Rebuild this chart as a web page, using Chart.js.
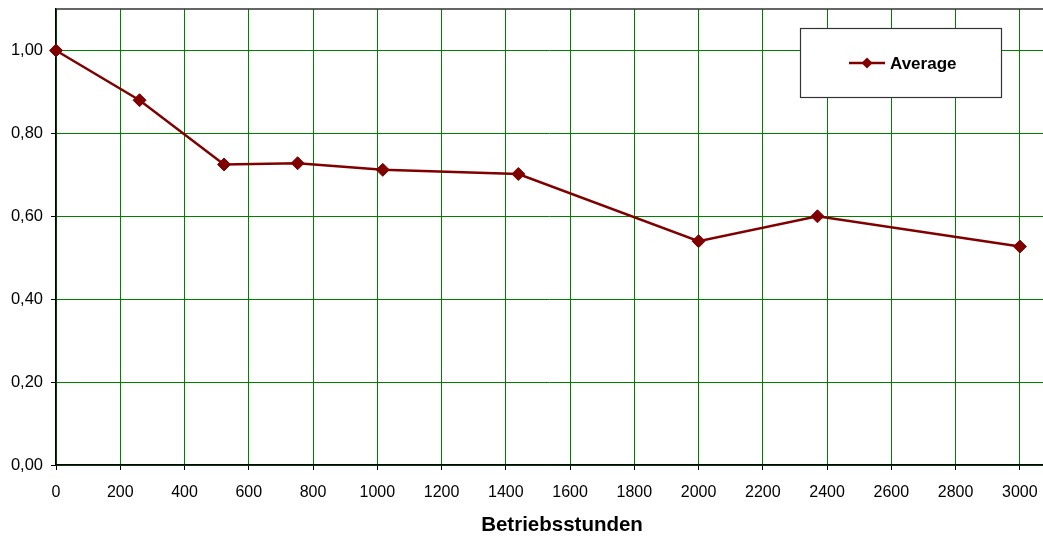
<!DOCTYPE html>
<html>
<head>
<meta charset="utf-8">
<title>Average</title>
<script src="https://cdn.jsdelivr.net/npm/chart.js@4/dist/chart.umd.min.js"></script>
<style>
  html, body { margin: 0; padding: 0; background: #fff; }
  #wrap { width: 1043px; height: 536px; position: relative; }
</style>
</head>
<body>
<div id="wrap"><canvas id="chart"></canvas></div>
<script>
  // Betriebsstunden (x) und Mittelwert (y)
  const hours = [0, 260, 523, 752, 1017, 1439, 2000, 2370, 3000];
  const average = [1.00, 0.88, 0.725, 0.728, 0.712, 0.702, 0.540, 0.600, 0.527];
  const seriesName = 'Average';
  const xTitle = 'Betriebsstunden';

  const FONT = '"Liberation Sans", Arial, sans-serif';
  const RED = '#800000';
  const GREEN = '#008000';

  // top frame, axis title and floating legend box like the excel original
  const framePlugin = {
    id: 'frame',
    afterDraw(chart) {
      const ctx = chart.ctx;
      const a = chart.chartArea;
      ctx.save();
      ctx.strokeStyle = '#333';
      ctx.lineWidth = 1.5;
      ctx.beginPath();
      ctx.moveTo(a.left, a.top);
      ctx.lineTo(a.right, a.top);
      ctx.stroke();

      // x title (the original plot runs past the right edge, so it sits off centre)
      ctx.fillStyle = '#000';
      ctx.font = 'bold 20.5px ' + FONT;
      ctx.textAlign = 'center';
      ctx.textBaseline = 'alphabetic';
      ctx.fillText(xTitle, 562, 531);

      // legend
      const bx = 800, by = 28, bw = 201, bh = 69;
      ctx.fillStyle = '#fff';
      ctx.fillRect(bx, by, bw, bh);
      ctx.strokeStyle = '#333';
      ctx.lineWidth = 1.2;
      ctx.strokeRect(bx + 0.5, by + 0.5, bw, bh);

      const ly = by + 35;
      ctx.strokeStyle = RED;
      ctx.lineWidth = 2.5;
      ctx.beginPath();
      ctx.moveTo(849, ly);
      ctx.lineTo(885, ly);
      ctx.stroke();
      ctx.fillStyle = RED;
      ctx.beginPath();
      ctx.moveTo(867 - 5.5, ly);
      ctx.lineTo(867, ly - 5.5);
      ctx.lineTo(867 + 5.5, ly);
      ctx.lineTo(867, ly + 5.5);
      ctx.closePath();
      ctx.fill();

      ctx.fillStyle = '#000';
      ctx.font = 'bold 17px ' + FONT;
      ctx.textBaseline = 'middle';
      ctx.textAlign = 'left';
      ctx.fillText(chart.data.datasets[0].label, 890, ly + 1);
      ctx.restore();
    }
  };

  const points = hours.map((h, i) => ({ x: h, y: average[i] }));

  new Chart(document.getElementById('chart'), {
    type: 'line',
    data: {
      datasets: [{
        label: seriesName,
        data: points,
        borderColor: RED,
        backgroundColor: RED,
        borderWidth: 2.5,
        pointStyle: 'rectRot',
        pointRadius: 6.5,
        pointBorderWidth: 1,
        pointBorderColor: RED,
        pointBackgroundColor: RED,
        tension: 0,
        fill: false,
        clip: false
      }]
    },
    options: {
      responsive: true,
      maintainAspectRatio: false,
      animation: false,
      layout: { autoPadding: false, padding: { top: 9, right: 0, left: 0, bottom: 0 } },
      plugins: {
        legend: { display: false },
        tooltip: { enabled: false }
      },
      scales: {
        x: {
          type: 'linear',
          min: 0,
          max: 3072,
          grid: { color: GREEN, lineWidth: 1, tickColor: '#000', tickLength: 5 },
          border: { color: '#000', width: 1.5 },
          ticks: {
            stepSize: 200,
            includeBounds: false,
            maxRotation: 0,
            autoSkip: false,
            color: '#000',
            padding: 13,
            font: { family: FONT, size: 16 },
            callback: v => String(v)
          },
          afterFit(s) { s.height = 71; s.paddingLeft = 0; s.paddingRight = 0; }
        },
        y: {
          min: 0,
          max: 1.1,
          grid: { color: GREEN, lineWidth: 1, tickColor: '#000', tickLength: 5 },
          border: { color: '#000', width: 1.5 },
          ticks: {
            stepSize: 0.2,
            includeBounds: false,
            color: '#000',
            padding: 8,
            font: { family: FONT, size: 16.5 },
            callback: v => v.toFixed(2).replace('.', ',')
          },
          afterFit(s) { s.width = 56; s.paddingTop = 0; s.paddingBottom = 0; }
        }
      }
    },
    plugins: [framePlugin]
  });
</script>
</body>
</html>
